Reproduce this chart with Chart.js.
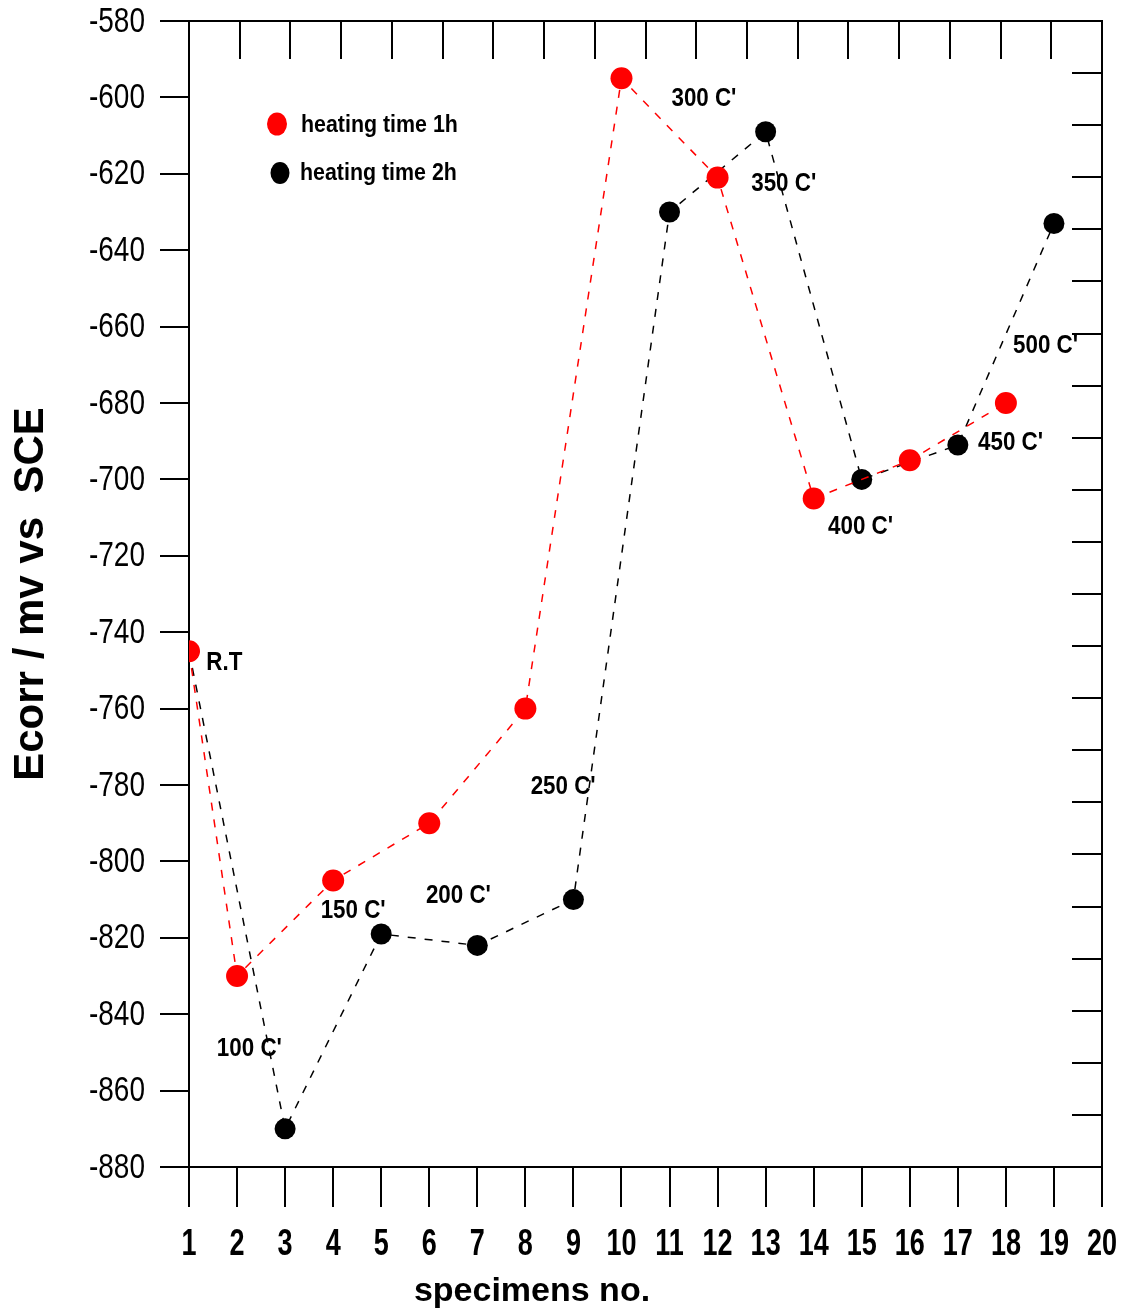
<!DOCTYPE html>
<html>
<head>
<meta charset="utf-8">
<script src="https://cdn.jsdelivr.net/npm/chart.js@4.4.0/dist/chart.umd.min.js"></script>
<style>
  html, body { margin: 0; padding: 0; background: #fff; }
  #wrap { width: 1123px; height: 1315px; }
</style>
</head>
<body>
<div id="wrap"><canvas id="ecorrChart" width="1123" height="1315"></canvas></div>
<script>
const ctx = document.getElementById('ecorrChart');

// specimens no. on x, Ecorr (mV vs SCE) on y
var xTicks = [1, 2, 3, 4, 5, 6, 7, 8, 9, 10, 11, 12, 13, 14, 15, 16, 17, 18, 19, 20];
var yTicks = [-580, -600, -620, -640, -660, -680, -700, -720, -740, -760, -780, -800, -820, -840, -860, -880];

var hour1X = [1, 2, 4, 6, 8, 10, 12, 14, 16, 18];
var hour1Y = [-745, -830, -805, -790, -760, -595, -621, -705, -695, -680];

var hour2X = [1, 3, 5, 7, 9, 11, 13, 15, 17, 19];
var hour2Y = [-745, -870, -819, -822, -810, -630, -609, -700, -691, -633];

// temperature notes, anchored at (x, y) in data units
var noteText = ['R.T', "100 C'", "150 C'", "200 C'", "250 C'", "300 C'", "350 C'", "400 C'", "450 C'", "500 C'"];
var noteX = [1.36, 1.58, 3.74, 5.93, 8.11, 11.04, 12.7, 14.3, 17.42, 18.15];
var noteY = [-748, -849, -813, -809, -780.5, -600.5, -622.5, -712.5, -690.5, -665];

var font = "'Liberation Sans', Arial, sans-serif";

function toPoints(xs, ys) {
    var pts = [];
    for (let i = 0; i < xs.length; i++) {
        pts.push({ x: xs[i], y: ys[i] });
    }
    return pts;
}

// narrow text: the original uses a condensed face, so squeeze it sideways
function squeezed(c, text, x, y, sx, align) {
    c.save();
    c.translate(x, y);
    c.scale(sx, 1);
    c.textAlign = align;
    c.fillText(text, 0, 0);
    c.restore();
}

// inward ticks on the top and right axes, frame, tick labels, legend, notes, x title
const extras = {
    id: 'extras',
    afterDraw(chart) {
        const c = chart.ctx;
        const a = chart.chartArea;
        const x2 = chart.scales.x2;
        const y2 = chart.scales.y2;
        const x = chart.scales.x;
        const y = chart.scales.y;
        c.save();
        c.strokeStyle = '#000';
        c.fillStyle = '#000';
        c.lineWidth = 2;
        c.beginPath();
        c.moveTo(a.left, a.top);
        c.lineTo(a.right, a.top);
        c.lineTo(a.right, a.bottom);
        c.stroke();
        for (let v = 1; v < 18; v++) {
            const px = Math.round(x2.getPixelForValue(v));
            c.beginPath();
            c.moveTo(px, a.top);
            c.lineTo(px, a.top + 38);
            c.stroke();
        }
        for (let v = 1; v < 22; v++) {
            const py = Math.round(y2.getPixelForValue(v));
            c.beginPath();
            c.moveTo(a.right - 30, py);
            c.lineTo(a.right, py);
            c.stroke();
        }

        c.textBaseline = 'middle';

        // tick labels
        c.font = '35px ' + font;
        for (let i = 0; i < yTicks.length; i++) {
            squeezed(c, String(yTicks[i]), a.left - 44, y.getPixelForValue(yTicks[i]) + 1, 0.8, 'right');
        }
        c.font = 'bold 36px ' + font;
        for (let i = 0; i < xTicks.length; i++) {
            squeezed(c, String(xTicks[i]), x.getPixelForValue(xTicks[i]), a.bottom + 78, 0.75, 'center');
        }

        // legend
        c.fillStyle = '#ff0000';
        c.beginPath();
        c.ellipse(a.left + 88, a.top + 103, 10, 11.5, 0, 0, Math.PI * 2);
        c.fill();
        c.fillStyle = '#000';
        c.beginPath();
        c.ellipse(a.left + 91, a.top + 152, 9.5, 11, 0, 0, Math.PI * 2);
        c.fill();
        c.font = 'bold 23px ' + font;
        squeezed(c, 'heating time 1h', a.left + 112, a.top + 105, 0.93, 'left');
        squeezed(c, 'heating time 2h', a.left + 111, a.top + 153, 0.93, 'left');

        // notes
        c.font = 'bold 26px ' + font;
        for (let i = 0; i < noteText.length; i++) {
            squeezed(c, noteText[i], x.getPixelForValue(noteX[i]), y.getPixelForValue(noteY[i]), 0.86, 'left');
        }

        // x title
        c.textAlign = 'center';
        c.font = 'bold 34px ' + font;
        c.fillText('specimens no.', 532, 1292);
        c.restore();
    }
};

new Chart(ctx, {
    type: 'line',
    data: {
        datasets: [
            {
                label: 'heating time 1h',
                data: toPoints(hour1X, hour1Y),
                borderColor: '#ff0000',
                backgroundColor: '#ff0000',
                borderWidth: 1.5,
                borderDash: [8, 9],
                pointRadius: 11,
                pointBorderWidth: 0,
                pointHoverRadius: 11,
                fill: false,
                tension: 0
            },
            {
                label: 'heating time 2h',
                data: toPoints(hour2X, hour2Y),
                borderColor: '#000',
                backgroundColor: '#000',
                borderWidth: 1.5,
                borderDash: [8, 9],
                pointRadius: 10.5,
                pointBorderWidth: 0,
                pointHoverRadius: 10.5,
                fill: false,
                tension: 0
            }
        ]
    },
    options: {
        responsive: false,
        animation: false,
        events: [],
        layout: { padding: { top: 21, right: 21, left: 0, bottom: 0 } },
        plugins: {
            legend: { display: false },
            tooltip: { enabled: false }
        },
        scales: {
            x: {
                type: 'linear',
                position: 'bottom',
                min: 1,
                max: 20,
                afterBuildTicks: (scale) => { scale.ticks = xTicks.map(v => ({ value: v })); },
                ticks: { display: false },
                grid: { drawOnChartArea: false, drawTicks: true, tickLength: 40, color: '#000', lineWidth: 2 },
                border: { display: true, color: '#000', width: 2 },
                afterFit: (scale) => { scale.height = 148; }
            },
            y: {
                type: 'linear',
                position: 'left',
                min: -880,
                max: -580,
                afterBuildTicks: (scale) => { scale.ticks = yTicks.map(v => ({ value: v })); },
                ticks: { display: false },
                grid: { drawOnChartArea: false, drawTicks: true, tickLength: 29, color: '#000', lineWidth: 2 },
                border: { display: true, color: '#000', width: 2 },
                title: {
                    display: true,
                    text: 'Ecorr / mv vs  SCE',
                    color: '#000',
                    padding: { top: 6, bottom: 0 },
                    font: { family: font, size: 42, weight: 'bold' }
                },
                afterFit: (scale) => { scale.width = 189; }
            },
            x2: { type: 'linear', display: false, position: 'top', min: 0, max: 18 },
            y2: { type: 'linear', display: false, position: 'right', min: 0, max: 22 }
        }
    },
    plugins: [extras]
});
</script>
</body>
</html>
